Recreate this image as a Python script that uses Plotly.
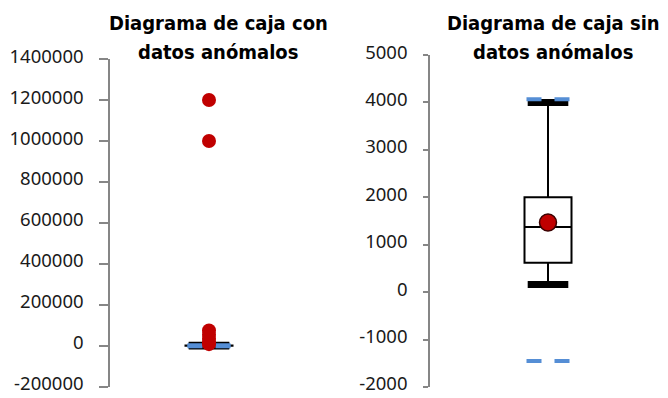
import plotly.graph_objects as go

# --- datos -------------------------------------------------------------
titulo_con = ["Diagrama de caja con", "datos anómalos"]
titulo_sin = ["Diagrama de caja sin", "datos anómalos"]

# estadísticos de la caja (mismo conjunto sin valores anómalos)
q1 = 620
mediana = 1375
q3 = 2000
bigote_inf = 160
bigote_sup = 4000
media_sin = 1470
# límites de Tukey: q1 - 1.5*RIC, q3 + 1.5*RIC
limite_inf = -1450
limite_sup = 4070

# puntos en rojo del gráfico con datos anómalos
anomalos = [1200000, 1000000, 76000, 55000, 35000, 20000, 9000]

ticks_con = [-200000, 0, 200000, 400000, 600000, 800000, 1000000, 1200000, 1400000]
ticks_sin = [-2000, -1000, 0, 1000, 2000, 3000, 4000, 5000]

# --- geometría ---------------------------------------------------------
W, H = 668, 398
PX = 118.0  # píxeles por unidad del eje x
dom1 = (110, 308)
dom2 = (430, 666)
ytop1, ytop2, ybot = 59, 55, 387

ROJO = "#C00000"
AZUL = "#558ED5"
GRIS = "#868686"

fig = go.Figure()


def panel(xa, extra_pts, media):
    xs = "x" if xa == 1 else "x%d" % xa
    ys = "y" if xa == 1 else "y%d" % xa
    # caja
    fig.add_trace(go.Box(
        x=[1], q1=[q1], median=[mediana], q3=[q3],
        lowerfence=[bigote_inf], upperfence=[bigote_sup],
        width=47 / PX, whiskerwidth=0,
        fillcolor="white", line=dict(color="black", width=2),
        boxpoints=False, xaxis=xs, yaxis=ys, showlegend=False,
        hoverinfo="skip"))
    # topes gruesos de los bigotes
    fig.add_trace(go.Scatter(
        x=[1, 1], y=[bigote_inf, bigote_sup], mode="markers",
        marker=dict(symbol="line-ew", size=29,
                    line=dict(color="black", width=7)),
        xaxis=xs, yaxis=ys, showlegend=False, hoverinfo="skip"))
    # límites (líneas azules discontinuas)
    for lim in (limite_inf, limite_sup):
        fig.add_trace(go.Scatter(
            x=[1 - 21.5 / PX, 1 + 21.5 / PX], y=[lim, lim], mode="lines",
            line=dict(color=AZUL, width=4, dash="15px,13px"),
            xaxis=xs, yaxis=ys, showlegend=False, hoverinfo="skip"))
    if extra_pts:
        fig.add_trace(go.Scatter(
            x=[1] * len(extra_pts), y=extra_pts, mode="markers",
            marker=dict(color=ROJO, size=14),
            xaxis=xs, yaxis=ys, showlegend=False, hoverinfo="skip"))
    if media is not None:
        fig.add_trace(go.Scatter(
            x=[1], y=[media], mode="markers",
            marker=dict(color=ROJO, size=17,
                        line=dict(color="#3a0000", width=1.5)),
            xaxis=xs, yaxis=ys, showlegend=False, hoverinfo="skip"))


panel(1, anomalos, None)
panel(2, None, media_sin)


def xr(dom):
    half = (dom[1] - dom[0]) / 2 / PX
    return [1 - half, 1 + half]


def yr(ticks):
    pad = (ticks[-1] - ticks[0]) * 1e-4
    return [ticks[0] - pad, ticks[-1] + pad]


yax_common = dict(
    showgrid=False, zeroline=False, showline=True, linecolor=GRIS,
    linewidth=1.5, ticks="outside", tickcolor=GRIS, tickwidth=1.5,
    tickfont=dict(family="Noto Sans", size=18.5, color="#1a1a1a"),
    automargin=False, ticklabeloverflow="allow", ticklabelshift=-3,
)

fig.update_layout(
    width=W, height=H, margin=dict(l=0, r=0, t=0, b=0),
    paper_bgcolor="white", plot_bgcolor="white",
    xaxis=dict(domain=[dom1[0] / W, dom1[1] / W], range=xr(dom1),
               visible=False, anchor="y", automargin=False),
    xaxis2=dict(domain=[dom2[0] / W, dom2[1] / W], range=xr(dom2),
                visible=False, anchor="y2", automargin=False),
    yaxis=dict(domain=[1 - ybot / H, 1 - ytop1 / H],
               range=yr(ticks_con), tickvals=ticks_con,
               ticktext=[str(v) for v in ticks_con], ticklen=9,
               ticklabelstandoff=12, anchor="x", **yax_common),
    yaxis2=dict(domain=[1 - ybot / H, 1 - ytop2 / H],
                range=yr(ticks_sin), tickvals=ticks_sin,
                ticktext=[str(v) for v in ticks_sin], ticklen=5,
                ticklabelstandoff=12, anchor="x2", **yax_common),
)

for lineas, cx in ((titulo_con, 218), (titulo_sin, 553)):
    for texto, cy in zip(lineas, (23, 52)):
        fig.add_annotation(
            text="<b>" + texto + "</b>", x=cx / W, y=1 - cy / H,
            xref="paper", yref="paper", xanchor="center", yanchor="middle",
            showarrow=False,
            font=dict(family="DejaVu Sans Condensed", size=20, color="black"))

fig.write_html("out.html")
